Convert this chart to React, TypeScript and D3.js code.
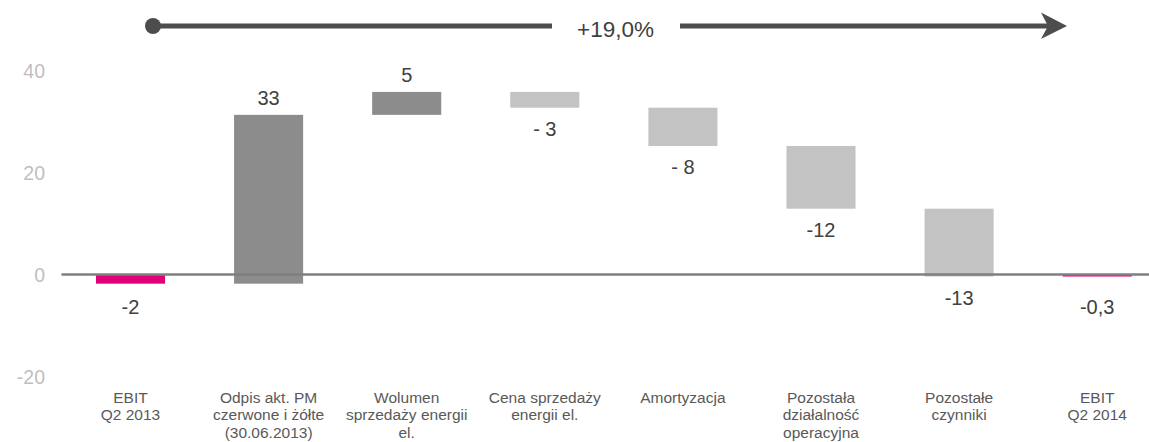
import React from "react";
import * as d3 from "d3";

const categories: string[][] = [
  ["EBIT", "Q2 2013"],
  ["Odpis akt. PM", "czerwone i żółte", "(30.06.2013)"],
  ["Wolumen", "sprzedaży energii", "el."],
  ["Cena sprzedaży", "energii el."],
  ["Amortyzacja"],
  ["Pozostała", "działalność", "operacyjna"],
  ["Pozostałe", "czynniki"],
  ["EBIT", "Q2 2014"],
];
const startValue = -1.7;
const changes = [33.1, 4.5, -3.1, -7.5, -12.3, -13.3];
const endValue = -0.3;
const valueLabels = ["-2", "33", "5", "- 3", "- 8", "-12", "-13", "-0,3"];
const yTicks = [-20, 0, 20, 40];
const yTickLabels = ["-20", "0", "20", "40"];
const growthLabel = "+19,0%";

const W = 1149;
const H = 442;
const FONT = "'Liberation Sans', Arial, sans-serif";
const MAGENTA = "#E2007A";
const DARK = "#8C8C8C";
const LIGHT = "#C3C3C3";

type Bar = { i: number; y0: number; y1: number; kind: "total" | "pos" | "neg" };

export default function App() {
  const keys = categories.map((_, i) => String(i));
  const x = d3
    .scaleBand<string>()
    .domain(keys)
    .range([61.45, 1166.25])
    .paddingInner(0.5)
    .paddingOuter(0.25);
  const y = d3.scaleLinear().domain([-20, 40]).range([377, 71]);

  const bars: Bar[] = [];
  bars.push({ i: 0, y0: 0, y1: startValue, kind: "total" });
  let cum = startValue;
  changes.forEach((c, k) => {
    const next = cum + c;
    bars.push({ i: k + 1, y0: cum, y1: next, kind: c >= 0 ? "pos" : "neg" });
    cum = next;
  });
  bars.push({ i: categories.length - 1, y0: 0, y1: endValue, kind: "total" });

  const zeroY = y(0);

  return (
    <svg
      width={W}
      height={H}
      style={{ position: "absolute", left: 0, top: 0, background: "#fff" }}
      fontFamily={FONT}
    >
      {/* y tick labels */}
      {yTicks.map((t, k) => (
        <text
          key={t}
          x={45}
          y={y(t)}
          dy="0.36em"
          textAnchor="end"
          fontSize={19.5}
          fill="#BFBFBF"
        >
          {yTickLabels[k]}
        </text>
      ))}

      {/* bars */}
      {bars.map((b) => {
        const top = y(Math.max(b.y0, b.y1));
        const bot = y(Math.min(b.y0, b.y1));
        const fill = b.kind === "total" ? MAGENTA : b.kind === "pos" ? DARK : LIGHT;
        return (
          <rect
            key={b.i}
            x={x(String(b.i))!}
            y={top}
            width={x.bandwidth()}
            height={Math.max(bot - top, 0.5)}
            fill={fill}
          />
        );
      })}

      {/* zero line */}
      <line
        x1={x.range()[0]}
        x2={x.range()[1]}
        y1={zeroY - 0.6}
        y2={zeroY - 0.6}
        stroke="#7F7F7F"
        strokeWidth={2.5}
      />

      {/* value labels */}
      {bars.map((b) => {
        const cx = x(String(b.i))! + x.bandwidth() / 2;
        const top = y(Math.max(b.y0, b.y1));
        const bot = y(Math.min(b.y0, b.y1));
        let ly: number;
        if (b.kind === "total") ly = zeroY + 39;
        else if (b.kind === "pos") ly = top - 10;
        else ly = bot + 28;
        return (
          <text key={b.i} x={cx} y={ly} textAnchor="middle" fontSize={20} fill="#404040">
            {valueLabels[b.i]}
          </text>
        );
      })}

      {/* category labels */}
      {categories.map((lines, i) => {
        const cx = x(String(i))! + x.bandwidth() / 2;
        return (
          <text key={i} textAnchor="middle" fontSize={15.5} fill="#595959">
            {lines.map((ln, j) => (
              <tspan key={j} x={cx} y={402.7 + j * 17.4}>
                {ln}
              </tspan>
            ))}
          </text>
        );
      })}

      {/* growth arrow */}
      <g>
        <circle cx={153} cy={26} r={8} fill="#4D4D4D" />
        <line x1={153} x2={552} y1={26} y2={26} stroke="#4D4D4D" strokeWidth={5} />
        <text x={615.5} y={36.5} textAnchor="middle" fontSize={22.5} fill="#404040">
          {growthLabel}
        </text>
        <line x1={680} x2={1050} y1={26} y2={26} stroke="#4D4D4D" strokeWidth={5} />
        <polygon points="1041,12.5 1067,26 1041,39 1048,26" fill="#4D4D4D" />
      </g>
    </svg>
  );
}
